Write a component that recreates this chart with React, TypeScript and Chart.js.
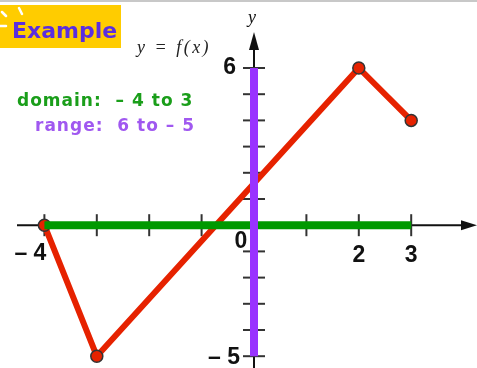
import React, { useEffect, useRef } from 'react';
import { Chart, registerables } from 'chart.js';

Chart.register(...registerables);

// Data
const curveX = [-4, -3, 2, 3];
const curveY = [0, -5, 6, 4];
const domainX = [-4, 3];
const rangeY = [-5, 6];
const xTickValues = [-4, -3, -2, -1, 1, 2, 3];
const yTickValues = [-5, -4, -3, -2, -1, 1, 2, 3, 4, 5, 6];
const xTickLabelValues = [-4, 2, 3];
const xTickLabelTexts = ['\u2013 4', '2', '3'];
const yTickLabelValues = [6, -5];
const yTickLabelTexts = ['6', '\u2013 5'];
const titleText = 'Example';
const funcText = 'y = f(x)';
const domainText = 'domain:  \u2013 4 to 3';
const rangeText = 'range:  6 to \u2013 5';

const RED = '#e62200';
const GREEN = '#009900';
const PURPLE = '#9933ff';

const decorPlugin = {
  id: 'decor',
  beforeDatasetsDraw(chart: any) {
    const ctx = chart.ctx;
    const xs = chart.scales.x;
    const ys = chart.scales.y;
    const x0 = xs.getPixelForValue(0);
    const y0 = ys.getPixelForValue(0);
    ctx.save();
    // top border line
    ctx.strokeStyle = '#c8c8c8';
    ctx.lineWidth = 2;
    ctx.beginPath();
    ctx.moveTo(0, 1);
    ctx.lineTo(477, 1);
    ctx.stroke();

    ctx.strokeStyle = '#111';
    ctx.fillStyle = '#111';
    ctx.lineWidth = 2;
    // x axis
    ctx.beginPath();
    ctx.moveTo(17, y0);
    ctx.lineTo(464, y0);
    ctx.stroke();
    ctx.beginPath();
    ctx.moveTo(477, y0);
    ctx.lineTo(461, y0 - 5);
    ctx.lineTo(461, y0 + 5);
    ctx.closePath();
    ctx.fill();
    // y axis
    ctx.beginPath();
    ctx.moveTo(x0, 48);
    ctx.lineTo(x0, 368);
    ctx.stroke();
    ctx.beginPath();
    ctx.moveTo(x0, 32);
    ctx.lineTo(x0 - 5, 50);
    ctx.lineTo(x0 + 5, 50);
    ctx.closePath();
    ctx.fill();
    // ticks
    ctx.strokeStyle = '#333';
    ctx.lineWidth = 2;
    xTickValues.forEach((v) => {
      const px = xs.getPixelForValue(v);
      ctx.beginPath();
      ctx.moveTo(px, y0 - 11);
      ctx.lineTo(px, y0 + 11);
      ctx.stroke();
    });
    yTickValues.forEach((v) => {
      const py = ys.getPixelForValue(v);
      ctx.beginPath();
      ctx.moveTo(x0 - 11, py);
      ctx.lineTo(x0 + 11, py);
      ctx.stroke();
    });
    ctx.restore();
  },
  afterDraw(chart: any) {
    const ctx = chart.ctx;
    const xs = chart.scales.x;
    const ys = chart.scales.y;
    const x0 = xs.getPixelForValue(0);
    const y0 = ys.getPixelForValue(0);
    ctx.save();
    // tick labels
    ctx.fillStyle = '#111';
    ctx.font = 'bold 23px "Liberation Sans", Arial, sans-serif';
    ctx.textBaseline = 'alphabetic';
    xTickLabelValues.forEach((v, i) => {
      const px = xs.getPixelForValue(v);
      if (v < 0) {
        ctx.textAlign = 'right';
        ctx.fillText(xTickLabelTexts[i], px + 2, y0 + 35);
      } else {
        ctx.textAlign = 'center';
        ctx.fillText(xTickLabelTexts[i], px, y0 + 37);
      }
    });
    ctx.textAlign = 'center';
    ctx.fillText('0', x0 - 13, y0 + 23);
    yTickLabelValues.forEach((v, i) => {
      const py = ys.getPixelForValue(v);
      ctx.textAlign = 'right';
      if (v > 0) ctx.fillText(yTickLabelTexts[i], x0 - 18, py + 6);
      else ctx.fillText(yTickLabelTexts[i], x0 - 14, py + 8);
    });
    // y axis label
    ctx.font = 'italic 18px "Liberation Serif", "Times New Roman", serif';
    ctx.textAlign = 'center';
    ctx.fillText('y', x0 - 2, 23);

    // Example box
    ctx.fillStyle = '#ffcc00';
    ctx.fillRect(0, 5, 121, 43);
    ctx.strokeStyle = '#ffffff';
    ctx.lineWidth = 2.5;
    ctx.lineCap = 'round';
    ctx.beginPath();
    ctx.moveTo(2, 12); ctx.lineTo(6, 16);
    ctx.moveTo(19, 8); ctx.lineTo(22, 14);
    ctx.moveTo(0, 26); ctx.lineTo(6, 26);
    ctx.stroke();
    ctx.fillStyle = '#5a2ee0';
    ctx.font = 'bold 22px "DejaVu Sans", Verdana, sans-serif';
    ctx.textAlign = 'left';
    ctx.fillText(titleText, 12, 38);

    // function text
    ctx.fillStyle = '#222';
    ctx.font = 'italic 18px "Liberation Serif", "Times New Roman", serif';
    (ctx as any).letterSpacing = '2.5px';
    ctx.fillText(funcText, 137, 53);

    // domain / range
    (ctx as any).letterSpacing = '1px';
    ctx.font = 'bold 17px "DejaVu Sans", Verdana, sans-serif';
    ctx.fillStyle = '#1a9e1a';
    ctx.fillText(domainText, 17, 106);
    ctx.fillStyle = '#a058f0';
    ctx.fillText(rangeText, 35, 131);
    (ctx as any).letterSpacing = '0px';
    ctx.restore();
  },
};

export default function App() {
  const ref = useRef<HTMLCanvasElement>(null);
  useEffect(() => {
    if (!ref.current) return;
    const chart = new Chart(ref.current, {
      type: 'scatter',
      data: {
        datasets: [
          {
            data: [
              { x: 0, y: rangeY[0] },
              { x: 0, y: rangeY[1] },
            ],
            showLine: true,
            borderColor: PURPLE,
            borderWidth: 8,
            borderCapStyle: 'butt',
            pointRadius: 0,
            order: 1,
          } as any,
          {
            data: [
              { x: domainX[0], y: 0 },
              { x: domainX[1], y: 0 },
            ],
            showLine: true,
            borderColor: GREEN,
            borderWidth: 8,
            borderCapStyle: 'butt',
            pointRadius: 0,
            order: 2,
          } as any,
          {
            data: curveX.map((x, i) => ({ x, y: curveY[i] })),
            showLine: true,
            borderColor: RED,
            borderWidth: 6,
            borderJoinStyle: 'round',
            pointRadius: 6,
            pointBackgroundColor: RED,
            pointBorderColor: '#333',
            pointBorderWidth: 1.5,
            order: 3,
          } as any,
        ],
      },
      options: {
        animation: false,
        responsive: false,
        maintainAspectRatio: false,
        events: [],
        layout: { padding: 0, autoPadding: false },
        plugins: {
          legend: { display: false },
          tooltip: { enabled: false },
          title: { display: false },
        },
        scales: {
          x: { type: 'linear', display: false, min: -4.8473, max: 4.2557 },
          y: { type: 'linear', display: false, min: -5.4504, max: 8.5954 },
        },
      },
      plugins: [decorPlugin],
    });
    return () => chart.destroy();
  }, []);
  return (
    <div style={{ position: 'fixed', left: 0, top: 0, width: 477, height: 368, background: '#fff' }}>
      <canvas ref={ref} width={477} height={368} />
    </div>
  );
}
